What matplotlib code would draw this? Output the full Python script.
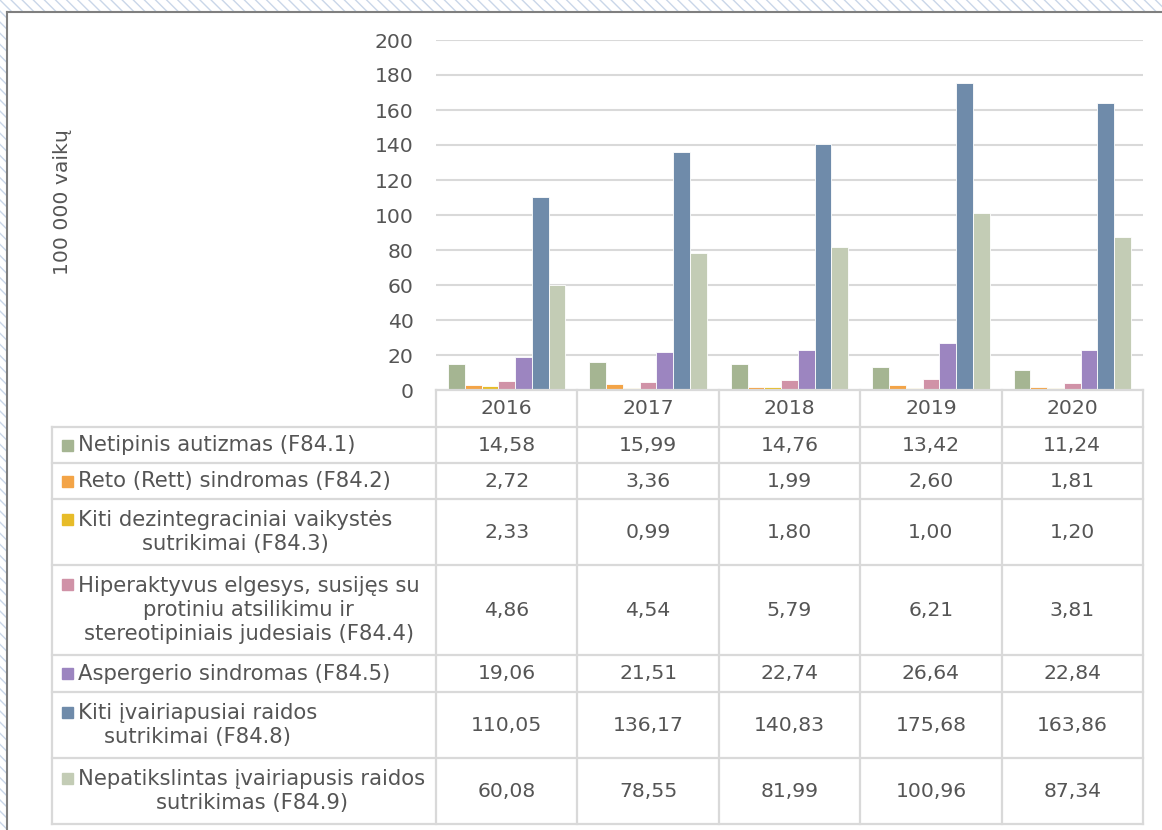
import matplotlib
matplotlib.use('Agg')
import matplotlib.pyplot as plt
from matplotlib.patches import Rectangle
from matplotlib.lines import Line2D
import numpy as np

W, H = 1162, 830

years = ['2016', '2017', '2018', '2019', '2020']
labels = [
    'Netipinis autizmas (F84.1)',
    'Reto (Rett) sindromas (F84.2)',
    'Kiti dezintegraciniai vaikystės\nsutrikimai (F84.3)',
    'Hiperaktyvus elgesys, susijęs su\nprotiniu atsilikimu ir\nstereotipiniais judesiais (F84.4)',
    'Aspergerio sindromas (F84.5)',
    'Kiti įvairiapusiai raidos\nsutrikimai (F84.8)',
    'Nepatikslintas įvairiapusis raidos\nsutrikimas (F84.9)',
]
f841 = [14.58, 15.99, 14.76, 13.42, 11.24]
f842 = [2.72, 3.36, 1.99, 2.60, 1.81]
f843 = [2.33, 0.99, 1.80, 1.00, 1.20]
f844 = [4.86, 4.54, 5.79, 6.21, 3.81]
f845 = [19.06, 21.51, 22.74, 26.64, 22.84]
f848 = [110.05, 136.17, 140.83, 175.68, 163.86]
f849 = [60.08, 78.55, 81.99, 100.96, 87.34]
series = [f841, f842, f843, f844, f845, f848, f849]
colors = ['#A5B592', '#F3A447', '#E7BC29', '#D092A7', '#9C85C0', '#6F8BAA', '#C3CCB5']

text_col = '#555555'
grid_col = '#D9D9D9'
fs = 14.7
fs_lab = 15.2


def fx(x):
    return x / W


def fy(y):
    return 1 - y / H


fig = plt.figure(figsize=(W / 100, H / 100), dpi=100)
fig.patch.set_facecolor('white')

# plot area
left, right, top, bottom = 436, 1143, 40, 390
ax = fig.add_axes([fx(left), fy(bottom), fx(right - left), (bottom - top) / H])
n = len(series)
bw = 0.83 / n
x = np.arange(len(years))
for i, (vals, c) in enumerate(zip(series, colors)):
    ax.bar(x + (i - (n - 1) / 2) * bw, vals, bw, color=c, edgecolor='white', linewidth=0.6, zorder=3)
ax.set_xlim(-0.5, len(years) - 0.5)
ax.set_ylim(0, 200)
ax.set_yticks(np.arange(0, 201, 20))
ax.yaxis.grid(True, color=grid_col, linewidth=1.5, zorder=0)
ax.set_xticks([])
for s in ax.spines.values():
    s.set_visible(False)
ax.tick_params(axis='y', length=0, pad=16, labelsize=fs, labelcolor=text_col)
ax.set_facecolor('none')

fig.text(fx(62), fy(202), '100 000 vaikų', rotation=90, ha='center', va='center',
         fontsize=fs, color=text_col)

# data table
col_edges = np.linspace(left, right, len(years) + 1)
row_edges = [390, 427, 463, 499, 565, 655, 692, 758, 824]
tleft = 52
lw = 1.6


def hline(y, x0, x1):
    fig.add_artist(Line2D([fx(x0), fx(x1)], [fy(y), fy(y)], color=grid_col, lw=lw))


def vline(xp, y0, y1):
    fig.add_artist(Line2D([fx(xp), fx(xp)], [fy(y0), fy(y1)], color=grid_col, lw=lw))


hline(row_edges[0], left, right)
for y in row_edges[1:]:
    hline(y, tleft, right)
for xp in col_edges:
    vline(xp, row_edges[0], row_edges[-1])
vline(tleft, row_edges[1], row_edges[-1])

for j, yr in enumerate(years):
    fig.text(fx((col_edges[j] + col_edges[j + 1]) / 2), fy((row_edges[0] + row_edges[1]) / 2),
             yr, ha='center', va='center', fontsize=fs, color=text_col)

for i, (lab, vals, c) in enumerate(zip(labels, series, colors)):
    y0, y1 = row_edges[i + 1], row_edges[i + 2]
    yc = (y0 + y1) / 2
    nlines = lab.count('\n') + 1
    first_y = yc - (nlines - 1) * 12.8
    fig.add_artist(Rectangle((fx(62), fy(first_y + 5.5)), 11 / W, 11 / H, color=c,
                             transform=fig.transFigure))
    fig.text(fx(78), fy(yc), lab, ha='left', va='center', multialignment='center',
             fontsize=fs_lab, color=text_col, linespacing=1.22)
    for j, v in enumerate(vals):
        fig.text(fx((col_edges[j] + col_edges[j + 1]) / 2), fy(yc),
                 f'{v:.2f}'.replace('.', ','), ha='center', va='center',
                 fontsize=fs, color=text_col)

# outer frame with selection hatch
fig.add_artist(Rectangle((0, fy(12)), 1, 12 / H, transform=fig.transFigure,
                         facecolor='white', edgecolor='#C9D6E8', hatch='\\\\\\', lw=0))
fig.add_artist(Rectangle((0, 0), 7 / W, 1, transform=fig.transFigure,
                         facecolor='white', edgecolor='#C9D6E8', hatch='\\\\\\', lw=0))
fig.add_artist(Line2D([fx(7), 1], [fy(12), fy(12)], color='#7F7F7F', lw=1.5))
fig.add_artist(Line2D([fx(7), fx(7)], [0, fy(12)], color='#7F7F7F', lw=1.5))

fig.savefig('out.png', dpi=100)
